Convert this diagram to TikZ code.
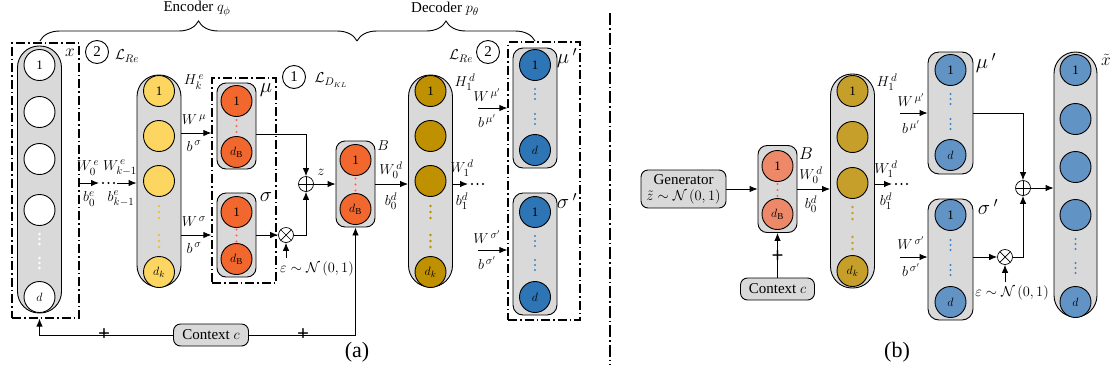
\documentclass[tikz,border=0pt]{standalone}
\usepackage{amsmath,amssymb}
\usepackage{fontspec}
\setmainfont{Liberation Serif}
\usetikzlibrary{positioning, decorations.pathreplacing, arrows.meta}

\definecolor{capgray}{RGB}{217,217,217}
\definecolor{yellowA}{RGB}{252,214,96}
\definecolor{orangeA}{RGB}{241,103,45}
\definecolor{goldA}{RGB}{191,144,0}
\definecolor{blueA}{RGB}{46,117,182}
\definecolor{orangeB}{RGB}{237,137,104}
\definecolor{goldB}{RGB}{198,158,42}
\definecolor{blueB}{RGB}{98,147,197}
\definecolor{dotred}{RGB}{255,95,95}
\definecolor{dotyellow}{RGB}{240,192,60}
\definecolor{dotblue}{RGB}{60,130,200}

\begin{document}
\begin{tikzpicture}[x=1pt, y=-1pt, >={Latex[length=8pt, width=6.5pt]}, line width=0.9pt,
  font=\fontsize{15}{17}\selectfont,
  colbox/.style={draw, fill=capgray, rounded corners=21.5pt, minimum width=44pt, inner sep=0pt},
  capbox/.style={draw, fill=capgray, rounded corners=9pt, minimum width=39pt, inner sep=0pt},
  neuron/.style={draw, circle, fill=#1, minimum size=31pt, inner sep=0pt, font=\fontsize{13}{13}\selectfont},
  dashbox/.style={draw, line width=1.3pt, dash pattern=on 9pt off 3pt on 1.5pt off 3pt, inner sep=0pt},
  tagbox/.style={draw, fill=capgray, rounded corners=7pt, inner sep=2pt},
  numcirc/.style={draw, circle, minimum size=23pt, inner sep=0pt},
  biglab/.style={font=\fontsize{20}{20}\selectfont},
  addop/.style={draw, circle, minimum size=15pt, inner sep=0pt, line width=0.7pt,
    path picture={\draw[line width=0.7pt] (path picture bounding box.north) -- (path picture bounding box.south)
      (path picture bounding box.west) -- (path picture bounding box.east);}},
  mulop/.style={draw, circle, minimum size=15pt, inner sep=0pt, line width=0.7pt,
    path picture={\draw[line width=0.7pt] (path picture bounding box.north west) -- (path picture bounding box.south east)
      (path picture bounding box.south west) -- (path picture bounding box.north east);}},
  ellip/.style={line width=2.2pt, line cap=round, dash pattern=on 0pt off 5.5pt},
  plusmark/.style={inner sep=0pt, font=\fontsize{21}{21}\selectfont\bfseries}]

  \useasboundingbox (0,0) rectangle (1116,373);

  \draw[decorate, decoration={brace, amplitude=20pt}] (40,41) -- (357,41);
  \draw[decorate, decoration={brace, amplitude=20pt}] (357,41) -- (535,41);
  \node (enc) at (197,9) {Encoder $q_{\phi}$};
  \node (dec) at (445,9) {Decoder $p_{\theta}$};

  \node[dashbox, minimum width=67pt, minimum height=275pt] (xbox) at (45.5,180.5) {};
  \node[colbox, minimum height=267pt] (xcol) at (39.5,179.5) {};
  \node[neuron=white] (x1) at (39.5,65) {1};
  \node[neuron=white] (x2) at (39.5,112) {};
  \node[neuron=white] (x3) at (39.5,159) {};
  \node[neuron=white] (x4) at (39.5,210) {};
  \node[neuron=white] (xd) at (39.5,297) {$d$};
  \foreach \y in {234,239,244,258,263,268} \fill[white] (39.5,\y) circle (1.4pt);
  \node[font=\fontsize{17}{17}\selectfont] (xlab) at (70,53) {$x$};
  \node[numcirc] (n2a) at (97,52) {2};
  \node (lrea) at (127,56) {$\mathcal{L}_{Re}$};

  \node[colbox, minimum height=212pt] (hk) at (159,181) {};
  \node[neuron=yellowA] (hk1) at (159,91) {1};
  \node[neuron=yellowA] (hk2) at (159,136) {};
  \node[neuron=yellowA] (hk3) at (159,181) {};
  \node[neuron=yellowA] (hkd) at (159,272) {$d_k$};
  \foreach \y in {206,212,218,235,241,247} \fill[dotyellow] (159,\y) circle (1.3pt);
  \node (hklab) at (194,82) {$H_k^{\,e}$};

  \coordinate (e0) at (99,183);
  \coordinate (e1) at (117,183);
  \draw[->] (xbox.east |- e0) -- (e0);
  \draw[ellip] ([xshift=4pt]e0) -- ([xshift=-2pt]e1);
  \draw[->] (e1) -- (hk.west |- e1);
  \node (w0e) at (88,168) {$W_0^{\,e}$};
  \node (wke) at (120,168) {$W_{k-1}^{\,e}$};
  \node (b0e) at (89,199) {$b_0^{e}$};
  \node (bke) at (121,199) {$b_{k-1}^{e}$};

  \node[dashbox, minimum width=64pt, minimum height=205pt] (musbox) at (244,180.5) {};
  \coordinate (wmu) at (musbox.west |- 0,133);
  \coordinate (wsig) at (musbox.west |- 0,235);
  \draw[->] (hk.east |- wmu) -- (wmu);
  \draw[->] (hk.east |- wsig) -- (wsig);
  \node (wmul) at (194,120) {$W^{\,\mu}$};
  \node (bmul) at (194,146) {$b^{\,\sigma}$};
  \node (wsigl) at (194,222) {$W^{\,\sigma}$};
  \node (bsigl) at (194,248) {$b^{\,\sigma}$};

  \node[capbox, minimum height=86pt] (mua) at (236.5,126) {};
  \node[neuron=orangeA] (mua1) at (236.5,101) {1};
  \node[neuron=orangeA] (muad) at (236.5,152) {$d_{\mathrm{B}}$};
  \foreach \y in {120,126,132} \fill[dotred] (236.5,\y) circle (1.2pt);
  \node[biglab] (mulab) at (266,90) {$\mu$};
  \node[capbox, minimum height=84pt] (siga) at (236.5,235) {};
  \node[neuron=orangeA] (siga1) at (236.5,212) {1};
  \node[neuron=orangeA] (sigad) at (236.5,259) {$d_{\mathrm{B}}$};
  \foreach \y in {229.5,235.5,241.5} \fill[dotred] (236.5,\y) circle (1.2pt);
  \node[biglab] (siglab) at (266,197) {$\sigma$};

  \node[numcirc] (n1a) at (294,77) {1};
  \node (lkl) at (331,80) {$\mathcal{L}_{D_{KL}}$};

  \node[addop] (adda) at (306,184) {};
  \node[mulop] (mula) at (286,235) {};
  \draw[->] ([yshift=-8pt]mua.east) -| (adda);
  \draw[->] (siga) -- (mula);
  \draw[->] (mula) -| (adda);
  \node (epsa) at (317,269) {$\varepsilon\sim\mathcal{N}\,(0,1)$};
  \draw[->] (epsa.north -| mula) -- (mula);

  \node[capbox, minimum height=86pt] (Ba) at (355.5,184) {};
  \node[neuron=orangeA] (Ba1) at (355.5,160) {1};
  \node[neuron=orangeA] (Bad) at (355.5,209) {$d_{\mathrm{B}}$};
  \foreach \y in {178.5,184.5,190.5} \fill[dotred] (355.5,\y) circle (1.2pt);
  \node (Blab) at (383,146) {$B$};
  \node (zlab) at (321,172) {$z$};
  \draw[->] (adda) -- (Ba);

  \node[tagbox, minimum width=75pt, minimum height=22pt] (ctxa) at (211,335) {Context $c$};
  \draw[->] (ctxa) -| (xcol |- xbox.south);
  \draw[->] (ctxa) -| (Ba);
  \node[plusmark] (pl1) at (104,334.5) {+};
  \node[plusmark] (pl2) at (303,334.5) {+};

  \node[colbox, minimum height=212pt] (h1a) at (430.5,181) {};
  \draw[->] (Ba) -- (h1a.west |- Ba);
  \node (w0da) at (391,170) {$W_0^{\,d}$};
  \node (b0da) at (391,201) {$b_0^{d}$};
  \node[neuron=goldA] (h1a1) at (430.5,91) {1};
  \node[neuron=goldA] (h1a2) at (430.5,136) {};
  \node[neuron=goldA] (h1a3) at (430.5,181) {};
  \node[neuron=goldA] (h1ad) at (430.5,272) {$d_k$};
  \foreach \y in {206,212,218,235,241,247} \fill[goldA] (430.5,\y) circle (1.3pt);
  \node (h1alab) at (465,82) {$H_1^{\,d}$};

  \coordinate (d1a) at (468,184);
  \coordinate (d2a) at (487,184);
  \draw[->] (h1a.east |- d1a) -- (d1a);
  \draw[ellip] ([xshift=4pt]d1a) -- (d2a);
  \node (w1da) at (462,168) {$W_1^{\,d}$};
  \node (b1da) at (462,201) {$b_1^{d}$};

  \node[dashbox, minimum width=72pt, minimum height=278pt] (outbox) at (544,181) {};
  \coordinate (wmupa) at (478,108);
  \coordinate (wsigpa) at (478,250);
  \draw[->] (wmupa) -- (outbox.west |- wmupa);
  \draw[->] (wsigpa) -- (outbox.west |- wsigpa);
  \node (wmupal) at (487,95) {$W^{\,\mu'}$};
  \node (bmupal) at (487,121) {$b^{\,\mu'}$};
  \node (wsigpal) at (487,237) {$W^{\,\sigma'}$};
  \node (bsigpal) at (487,263) {$b^{\,\sigma'}$};
  \node (lreb) at (461,56) {$\mathcal{L}_{Re}$};
  \node[numcirc] (n2b) at (488,52) {2};

  \node[capbox, minimum width=44pt, minimum height=120pt, rounded corners=10pt] (mupa) at (535,108) {};
  \node[neuron=blueA] (mupa1) at (535,65) {1};
  \node[neuron=blueA] (mupad) at (535,150) {$d$};
  \foreach \y in {89,94,99,114,119,124} \fill[dotblue] (535,\y) circle (1.2pt);
  \node[biglab] (mupalab) at (567,58) {$\mu\,'$};
  \node[capbox, minimum width=44pt, minimum height=122pt, rounded corners=10pt] (sigpa) at (535,254) {};
  \node[neuron=blueA] (sigpa1) at (535,212) {1};
  \node[neuron=blueA] (sigpad) at (535,297) {$d$};
  \foreach \y in {236,241,246,260,265,270} \fill[dotblue] (535,\y) circle (1.2pt);
  \node[biglab] (sigpalab) at (567,201) {$\sigma\,'$};

  \node[font=\fontsize{22}{22}\selectfont] (capa) at (357,352) {(a)};

  \draw[line width=1.3pt, dash pattern=on 12pt off 3pt on 1.5pt off 3pt] (610,13) -- (610,365);

  \node[tagbox, minimum width=85pt, minimum height=38pt, align=center, inner sep=1pt] (gen) at (683.5,189)
    {Generator\\[-1pt] $\tilde{z}\sim\mathcal{N}\,(0,1)$};

  \node[capbox, minimum height=87pt] (Bb) at (777.5,189) {};
  \node[neuron=orangeB] (Bb1) at (777.5,166) {1};
  \node[neuron=orangeB] (Bbd) at (777.5,214) {$d_{\mathrm{B}}$};
  \foreach \y in {184,190,196} \fill[dotred] (777.5,\y) circle (1.2pt);
  \node[font=\fontsize{17}{17}\selectfont] (Bblab) at (806,154) {$B$};
  \draw[->] (gen) -- (Bb);

  \node[tagbox, minimum width=74pt, minimum height=22pt] (ctxb) at (777.5,289) {Context $c$};
  \draw[->] (ctxb) -- (Bb);
  \node[plusmark] (pl3) at (777.5,256.5) {+};

  \node[colbox, minimum height=214pt] (h1b) at (852.5,181) {};
  \draw[->] (Bb) -- (h1b.west |- Bb);
  \node (w0db) at (811,175) {$W_0^{\,d}$};
  \node (b0db) at (811,204) {$b_0^{d}$};
  \node[neuron=goldB] (h1b1) at (852.5,91) {1};
  \node[neuron=goldB] (h1b2) at (852.5,137) {};
  \node[neuron=goldB] (h1b3) at (852.5,183) {};
  \node[neuron=goldB] (h1bd) at (852.5,271) {$d_k$};
  \foreach \y in {207,213,219,237,243,249} \fill[goldB] (852.5,\y) circle (1.3pt);
  \node (h1blab) at (887,82) {$H_1^{\,d}$};

  \coordinate (d1b) at (892,184);
  \coordinate (d2b) at (907,184);
  \draw[->] (h1b.east |- d1b) -- (d1b);
  \draw[ellip] ([xshift=4pt]d1b) -- (d2b);
  \node (w1db) at (886,169) {$W_1^{\,d}$};
  \node (b1db) at (886,201) {$b_1^{d}$};

  \node[capbox, minimum width=45pt, minimum height=122pt, rounded corners=11pt] (mupb) at (950.5,113) {};
  \node[neuron=blueB] (mupb1) at (950.5,70) {1};
  \node[neuron=blueB] (mupbd) at (950.5,155) {$d$};
  \foreach \y in {94,99,104,119,124,129} \fill[dotblue] (950.5,\y) circle (1.2pt);
  \node[biglab] (mupblab) at (986,63) {$\mu\,'$};
  \coordinate (wmupb) at (900,113);
  \draw[->] (wmupb) -- (mupb);
  \node (wmupbl) at (911,100) {$W^{\,\mu'}$};
  \node (bmupbl) at (911,127) {$b^{\,\mu'}$};

  \node[capbox, minimum width=45pt, minimum height=121pt, rounded corners=11pt] (sigpb) at (950.5,259.5) {};
  \node[neuron=blueB] (sigpb1) at (950.5,215) {1};
  \node[neuron=blueB] (sigpbd) at (950.5,302) {$d$};
  \foreach \y in {240,245,250,265,270,275} \fill[dotblue] (950.5,\y) circle (1.2pt);
  \node[biglab] (sigpblab) at (988,207) {$\sigma\,'$};
  \coordinate (wsigpb) at (900,257);
  \draw[->] (wsigpb) -- (sigpb.west |- wsigpb);
  \node (wsigpbl) at (911,243) {$W^{\,\sigma'}$};
  \node (bsigpbl) at (911,270) {$b^{\,\sigma'}$};

  \node[addop] (addb) at (1023,188) {};
  \node[mulop] (mulb) at (1005,257) {};
  \draw[->] (mupb) -| (addb);
  \draw[->] (sigpb.east |- mulb) -- (mulb);
  \draw[->] (mulb) -| (addb);
  \node (epsb) at (1012,293) {$\varepsilon\sim\mathcal{N}\,(0,1)$};
  \draw[->] (epsb.north -| mulb) -- (mulb);

  \node[colbox, minimum width=43pt, minimum height=265pt] (xtc) at (1075.5,184.5) {};
  \draw[->] (addb) -- (xtc.west |- addb);
  \node[neuron=blueB] (xt1) at (1075.5,70) {1};
  \node[neuron=blueB] (xt2) at (1075.5,119) {};
  \node[neuron=blueB] (xt3) at (1075.5,167) {};
  \node[neuron=blueB] (xt4) at (1075.5,215) {};
  \node[neuron=blueB] (xtd) at (1075.5,302) {$d$};
  \foreach \y in {239,244,249,263,268,273} \fill[dotblue] (1075.5,\y) circle (1.2pt);
  \node[font=\fontsize{17}{17}\selectfont] (xtlab) at (1106,60) {$\tilde{x}$};

  \node[font=\fontsize{22}{22}\selectfont] (capb) at (897,352) {(b)};
\end{tikzpicture}
\end{document}
